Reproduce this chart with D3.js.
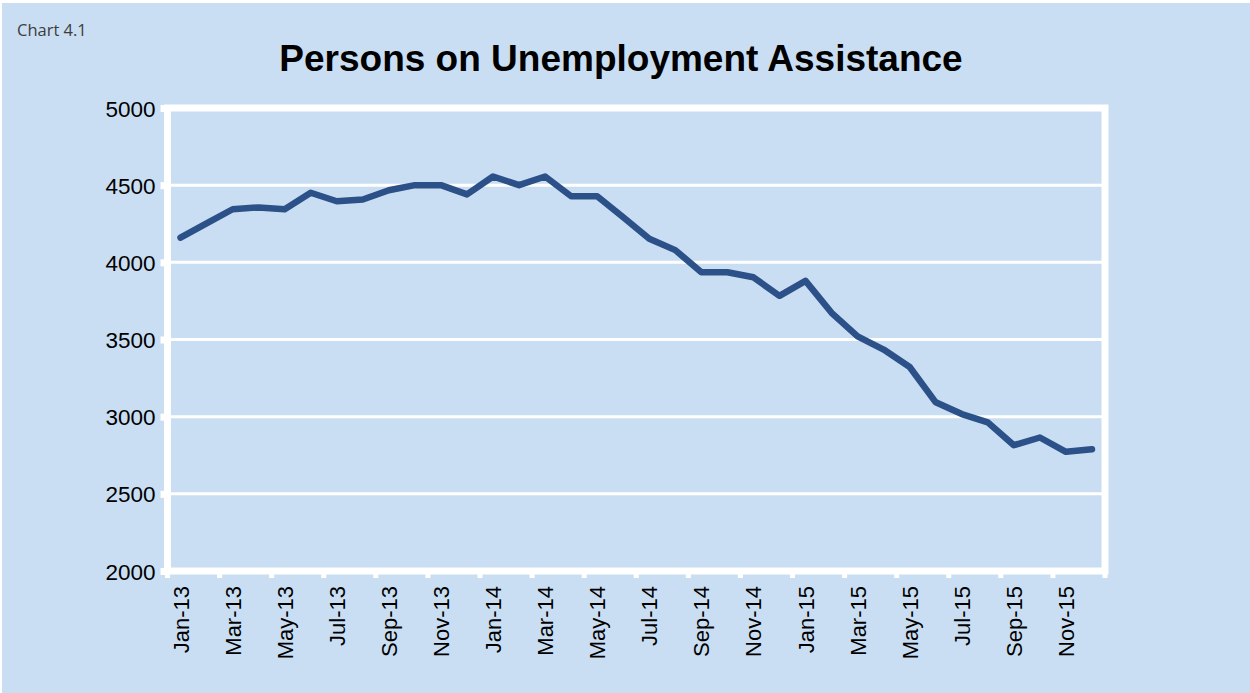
<!DOCTYPE html>
<html>
<head>
<meta charset="utf-8">
<script src="https://cdn.jsdelivr.net/npm/d3@7"></script>
<style>
  body { margin: 0; background: #fff; }
  svg { display: block; }
</style>
</head>
<body>
<div id="wrapper"></div>
<script>
// monthly values, Jan-13 .. Dec-15
const months = [
    'Jan-13', 'Feb-13', 'Mar-13', 'Apr-13', 'May-13', 'Jun-13',
    'Jul-13', 'Aug-13', 'Sep-13', 'Oct-13', 'Nov-13', 'Dec-13',
    'Jan-14', 'Feb-14', 'Mar-14', 'Apr-14', 'May-14', 'Jun-14',
    'Jul-14', 'Aug-14', 'Sep-14', 'Oct-14', 'Nov-14', 'Dec-14',
    'Jan-15', 'Feb-15', 'Mar-15', 'Apr-15', 'May-15', 'Jun-15',
    'Jul-15', 'Aug-15', 'Sep-15', 'Oct-15', 'Nov-15', 'Dec-15',
]
const persons = [
    4160, 4252, 4344, 4356, 4344, 4451,
    4396, 4407, 4467, 4500, 4500, 4440,
    4556, 4500, 4556, 4428, 4428, 4292,
    4153, 4079, 3936, 3936, 3903, 3783,
    3880, 3673, 3520, 3435, 3322, 3093,
    3017, 2963, 2815, 2865, 2772, 2789,
]
const yTicks = [2000, 2500, 3000, 3500, 4000, 4500, 5000]

function drawChart() {
    const dimensions = {
        width: 1250,
        height: 693,
        margin: { top: 108, right: 145, bottom: 122, left: 167.5 },
    }
    dimensions.boundedWidth =
        dimensions.width - dimensions.margin.left - dimensions.margin.right
    dimensions.boundedHeight =
        dimensions.height - dimensions.margin.top - dimensions.margin.bottom

    const bg = '#c9def3'
    const labelFont = 'Liberation Sans, Arial, sans-serif'

    const wrapper = d3.select('#wrapper')
        .append('svg')
        .attr('width', dimensions.width)
        .attr('height', dimensions.height)

    // page background, with the thin white edge at top/left
    wrapper.append('rect')
        .attr('x', 2).attr('y', 3)
        .attr('width', dimensions.width - 2)
        .attr('height', dimensions.height - 3)
        .attr('fill', bg)

    wrapper.append('text')
        .attr('x', 17).attr('y', 36)
        .attr('font-family', 'Open Sans, Noto Sans, sans-serif')
        .attr('font-size', 16.5)
        .attr('fill', '#3d3d3d')
        .text('Chart 4.1')

    wrapper.append('text')
        .attr('x', 621).attr('y', 71)
        .attr('text-anchor', 'middle')
        .attr('font-family', labelFont)
        .attr('font-weight', 'bold')
        .attr('font-size', 37)
        .attr('fill', '#000')
        .text('Persons on Unemployment Assistance')

    const bounds = wrapper.append('g')
        .attr('transform', `translate(${dimensions.margin.left},${dimensions.margin.top})`)

    // scales
    const xScale = d3.scaleBand()
        .domain(months)
        .range([0, dimensions.boundedWidth])

    const yScale = d3.scaleLinear()
        .domain([2000, 5000])
        .range([dimensions.boundedHeight, 0])

    // gridlines
    bounds.append('g')
        .selectAll('line')
        .data(yTicks.slice(1, -1))
        .join('line')
        .attr('x1', 0)
        .attr('x2', dimensions.boundedWidth)
        .attr('y1', d => yScale(d))
        .attr('y2', d => yScale(d))
        .attr('stroke', '#fff')
        .attr('stroke-width', 3)

    // frame
    bounds.append('rect')
        .attr('width', dimensions.boundedWidth)
        .attr('height', dimensions.boundedHeight)
        .attr('fill', 'none')
        .attr('stroke', '#fff')
        .attr('stroke-width', 7)

    // y axis
    const yAxisGenerator = d3.axisLeft(yScale)
        .tickValues(yTicks)
        .tickSize(7)
        .tickPadding(5)
        .tickFormat(d3.format('d'))

    const yAxis = bounds.append('g').call(yAxisGenerator)
    yAxis.select('.domain').remove()
    yAxis.selectAll('.tick line')
        .attr('stroke', '#fff')
        .attr('stroke-width', 7)
    yAxis.selectAll('.tick text')
        .attr('font-family', labelFont)
        .attr('font-size', 22.5)
        .attr('fill', '#000')
        .attr('dy', '0.36em')

    // x axis: ticks at every second category boundary
    const labelled = months.filter((m, i) => i % 2 === 0)
    const boundaries = labelled.map(m => xScale(m))
    boundaries.push(dimensions.boundedWidth)
    bounds.append('g')
        .selectAll('line')
        .data(boundaries)
        .join('line')
        .attr('x1', d => d)
        .attr('x2', d => d)
        .attr('y1', dimensions.boundedHeight)
        .attr('y2', dimensions.boundedHeight + 7)
        .attr('stroke', '#fff')
        .attr('stroke-width', 5)

    bounds.append('g')
        .selectAll('text')
        .data(labelled)
        .join('text')
        .attr('transform', d =>
            `translate(${xScale(d) + xScale.bandwidth() / 2 + 8},${dimensions.boundedHeight + 15}) rotate(-90)`)
        .attr('text-anchor', 'end')
        .attr('font-family', labelFont)
        .attr('font-size', 22)
        .attr('fill', '#000')
        .text(d => d)

    // the series
    const lineGenerator = d3.line()
        .x((d, i) => xScale(months[i]) + xScale.bandwidth() / 2)
        .y(d => yScale(d))

    bounds.append('path')
        .datum(persons)
        .attr('d', lineGenerator)
        .attr('fill', 'none')
        .attr('stroke', '#2c5088')
        .attr('stroke-width', 6.5)
        .attr('stroke-linejoin', 'round')
        .attr('stroke-linecap', 'round')
}
drawChart()
</script>
</body>
</html>
